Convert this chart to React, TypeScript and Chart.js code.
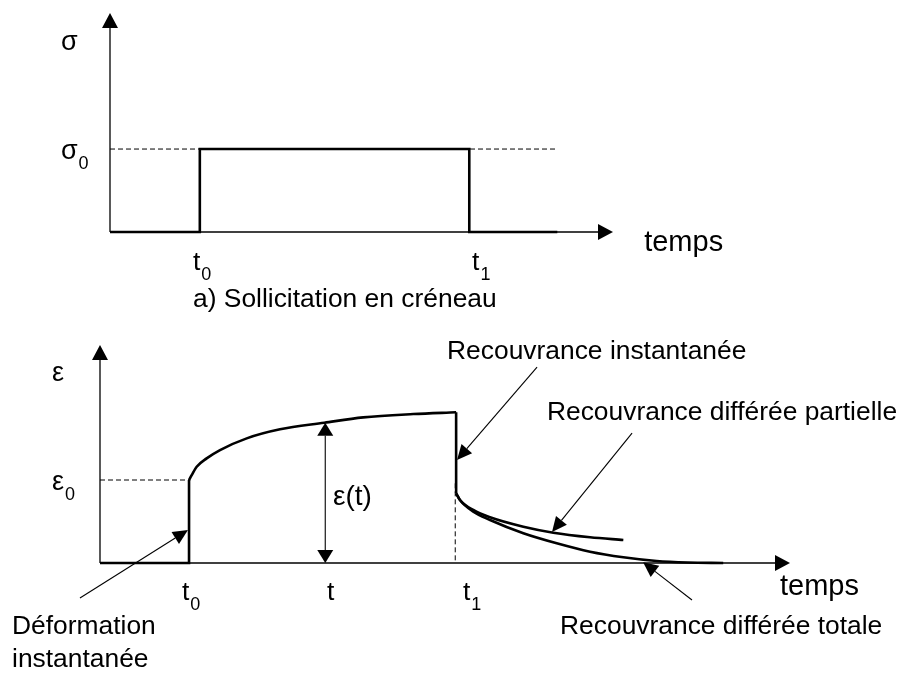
import React, { useEffect, useRef } from "react";
import { Chart, registerables } from "chart.js";
Chart.register(...registerables);

const FONT = '"Liberation Sans", Arial, Helvetica, sans-serif';

// ---------- a) Sollicitation en créneau (stress vs time) ----------
const loadTimes = [0, 1, 1, 4, 4, 4.98];
const loadStress = [0, 0, 1, 1, 0, 0];
const sigma0RefTimes = [0, 4.98];
const sigma0RefValues = [1, 1];
const topXMax = 5.6;
const topYMax = 2.64;

// ---------- b) strain response ----------
const baseTimes = [0, 1, 1];
const baseStrain = [0, 0, 1.0];
const creepTimes = [1, 1.03, 1.086, 1.198, 1.348, 1.648, 2.022, 2.519, 2.957, 3.519, 4.0];
const creepStrain = [1.0, 1.06, 1.16, 1.261, 1.361, 1.502, 1.611, 1.69, 1.755, 1.795, 1.816];
const dropTimes = [4, 4];
const dropStrain = [1.816, 0.84];
const totalTimes = [4.0, 4.043, 4.193, 4.381, 4.755, 5.13, 5.504, 5.878, 6.253, 6.6, 7.0];
const totalStrain = [0.84, 0.759, 0.618, 0.518, 0.358, 0.237, 0.136, 0.069, 0.024, 0.006, 0.0];
const partialTimes = [4.0, 4.043, 4.193, 4.381, 4.755, 5.092, 5.504, 5.878];
const partialStrain = [0.84, 0.759, 0.639, 0.551, 0.437, 0.365, 0.31, 0.277];
const eps0RefTimes = [0, 1];
const eps0RefValues = [1, 1];
const t1RefTimes = [3.99, 3.99];
const t1RefValues = [0.96, 0];
const botXMax = 7.75;
const botYMax = 2.627;

type Txt = { text: string; sub?: string; x: number; y: number; size?: number; align?: CanvasTextAlign };
type Arr = { x1: number; y1: number; x2: number; y2: number; len: number; half: number; both?: boolean };

const topTexts: Txt[] = [
  { text: "σ", x: -0.546, y: 2.289, size: 27 },
  { text: "σ", sub: "0", x: -0.546, y: 0.964, size: 27 },
  { text: "t", sub: "0", x: 0.924, y: -0.373 },
  { text: "t", sub: "1", x: 4.031, y: -0.373 },
  { text: "temps", x: 5.947, y: -0.133, size: 29 },
  { text: "a) Sollicitation en créneau", x: 0.924, y: -0.819 },
];

const botTexts: Txt[] = [
  { text: "ε", x: -0.539, y: 2.289, size: 27 },
  { text: "ε", sub: "0", x: -0.539, y: 0.964, size: 27 },
  { text: "t", sub: "0", x: 0.921, y: -0.361 },
  { text: "t", x: 2.55, y: -0.361 },
  { text: "t", sub: "1", x: 4.077, y: -0.361 },
  { text: "temps", x: 7.638, y: -0.289, size: 29 },
  { text: "ε(t)", x: 2.617, y: 0.795, size: 28 },
  { text: "Recouvrance instantanée", x: 3.898, y: 2.542 },
  { text: "Recouvrance différée partielle", x: 5.02, y: 1.807 },
  { text: "Recouvrance différée totale", x: 5.167, y: -0.771 },
  { text: "Déformation", x: -0.988, y: -0.771 },
  { text: "instantanée", x: -0.988, y: -1.169 },
];

const botArrows: Arr[] = [
  { x1: -0.225, y1: -0.422, x2: 0.988, y2: 0.398, len: 15, half: 7 },
  { x1: 4.909, y1: 2.361, x2: 4.01, y2: 1.241, len: 15, half: 7 },
  { x1: 5.976, y1: 1.566, x2: 5.077, y2: 0.373, len: 15, half: 7 },
  { x1: 6.649, y1: -0.446, x2: 6.1, y2: 0.01, len: 15, half: 7 },
  { x1: 2.53, y1: 0, x2: 2.53, y2: 1.69, len: 13, half: 8, both: true },
];

function xy(ts: number[], vs: number[]) {
  return ts.map((t, i) => ({ x: t, y: vs[i] }));
}

function drawArrow(ctx: CanvasRenderingContext2D, x1: number, y1: number, x2: number, y2: number, len: number, half: number, lw: number, both = false) {
  const a = Math.atan2(y2 - y1, x2 - x1);
  const c = Math.cos(a), s = Math.sin(a);
  const bx = x2 - len * c, by = y2 - len * s;
  const sx = both ? x1 + len * c : x1, sy = both ? y1 + len * s : y1;
  ctx.save();
  ctx.strokeStyle = "#000";
  ctx.fillStyle = "#000";
  ctx.lineWidth = lw;
  ctx.beginPath();
  ctx.moveTo(sx, sy);
  ctx.lineTo(bx, by);
  ctx.stroke();
  ctx.beginPath();
  ctx.moveTo(x2, y2);
  ctx.lineTo(bx + half * s, by - half * c);
  ctx.lineTo(bx - half * s, by + half * c);
  ctx.closePath();
  ctx.fill();
  if (both) {
    ctx.beginPath();
    ctx.moveTo(x1, y1);
    ctx.lineTo(sx + half * s, sy - half * c);
    ctx.lineTo(sx - half * s, sy + half * c);
    ctx.closePath();
    ctx.fill();
  }
  ctx.restore();
}

function makeDecor(xMax: number, yMax: number, texts: Txt[], arrows: Arr[]) {
  return {
    id: "decor",
    beforeDatasetsDraw(chart: any) {
      const ctx = chart.ctx as CanvasRenderingContext2D;
      const xs = chart.scales.x, ys = chart.scales.y;
      const x0 = xs.getPixelForValue(0), y0 = ys.getPixelForValue(0);
      drawArrow(ctx, x0, y0, xs.getPixelForValue(xMax), y0, 15, 8, 1.3);
      drawArrow(ctx, x0, y0, x0, ys.getPixelForValue(yMax), 15, 8, 1.3);
    },
    afterDatasetsDraw(chart: any) {
      const ctx = chart.ctx as CanvasRenderingContext2D;
      const xs = chart.scales.x, ys = chart.scales.y;
      for (const a of arrows) {
        drawArrow(ctx, xs.getPixelForValue(a.x1), ys.getPixelForValue(a.y1), xs.getPixelForValue(a.x2), ys.getPixelForValue(a.y2), a.len, a.half, 1.1, a.both);
      }
      ctx.save();
      ctx.fillStyle = "#000";
      ctx.textBaseline = "middle";
      for (const t of texts) {
        const size = t.size ?? 26.4;
        const px = xs.getPixelForValue(t.x), py = ys.getPixelForValue(t.y);
        ctx.font = `${size}px ${FONT}`;
        ctx.textAlign = t.align ?? "left";
        ctx.fillText(t.text, px, py);
        if (t.sub) {
          const w = ctx.measureText(t.text).width;
          ctx.font = `18px ${FONT}`;
          ctx.textAlign = "left";
          ctx.fillText(t.sub, px + w + 1, py + 12);
        }
      }
      ctx.restore();
    },
  };
}

function baseOptions(xMax: number, yMax: number, pad: { left: number; right: number; top: number; bottom: number }) {
  return {
    animation: false as const,
    responsive: false,
    maintainAspectRatio: false,
    layout: { padding: pad },
    scales: {
      x: { type: "linear" as const, min: 0, max: xMax, display: false },
      y: { type: "linear" as const, min: 0, max: yMax, display: false },
    },
    plugins: { legend: { display: false }, tooltip: { enabled: false } },
    elements: { point: { radius: 0 } },
  };
}

function thick(data: { x: number; y: number }[], curve = false) {
  return {
    data,
    borderColor: "#000",
    borderWidth: 2.6,
    pointRadius: 0,
    fill: false,
    clip: false as any,
    tension: 0,
    cubicInterpolationMode: curve ? ("monotone" as const) : ("default" as const),
    borderCapStyle: "butt" as const,
    borderJoinStyle: "miter" as const,
  };
}

function dashed(data: { x: number; y: number }[]) {
  return {
    data,
    borderColor: "#000",
    borderWidth: 1,
    borderDash: [5, 3],
    pointRadius: 0,
    fill: false,
    clip: false as any,
    tension: 0,
  };
}

export default function App() {
  const topRef = useRef<HTMLCanvasElement>(null);
  const botRef = useRef<HTMLCanvasElement>(null);

  useEffect(() => {
    const top = new Chart(topRef.current!, {
      type: "line",
      data: {
        datasets: [dashed(xy(sigma0RefTimes, sigma0RefValues)), thick(xy(loadTimes, loadStress))],
      },
      options: baseOptions(topXMax, topYMax, { left: 110, right: 287, top: 13, bottom: 88 }) as any,
      plugins: [makeDecor(topXMax, topYMax, topTexts, [])],
    });
    const bot = new Chart(botRef.current!, {
      type: "line",
      data: {
        datasets: [
          dashed(xy(eps0RefTimes, eps0RefValues)),
          dashed(xy(t1RefTimes, t1RefValues)),
          thick(xy(baseTimes, baseStrain)),
          thick(xy(creepTimes, creepStrain), true),
          thick(xy(dropTimes, dropStrain)),
          thick(xy(totalTimes, totalStrain), true),
          thick(xy(partialTimes, partialStrain), true),
        ],
      },
      options: baseOptions(botXMax, botYMax, { left: 100, right: 110, top: 25, bottom: 110 }) as any,
      plugins: [makeDecor(botXMax, botYMax, botTexts, botArrows)],
    });
    return () => {
      top.destroy();
      bot.destroy();
    };
  }, []);

  return (
    <div style={{ position: "absolute", left: 0, top: 0, width: 900, height: 673, background: "#fff" }}>
      <canvas ref={topRef} width={900} height={320} style={{ display: "block", width: 900, height: 320 }} />
      <canvas ref={botRef} width={900} height={353} style={{ display: "block", width: 900, height: 353 }} />
    </div>
  );
}
